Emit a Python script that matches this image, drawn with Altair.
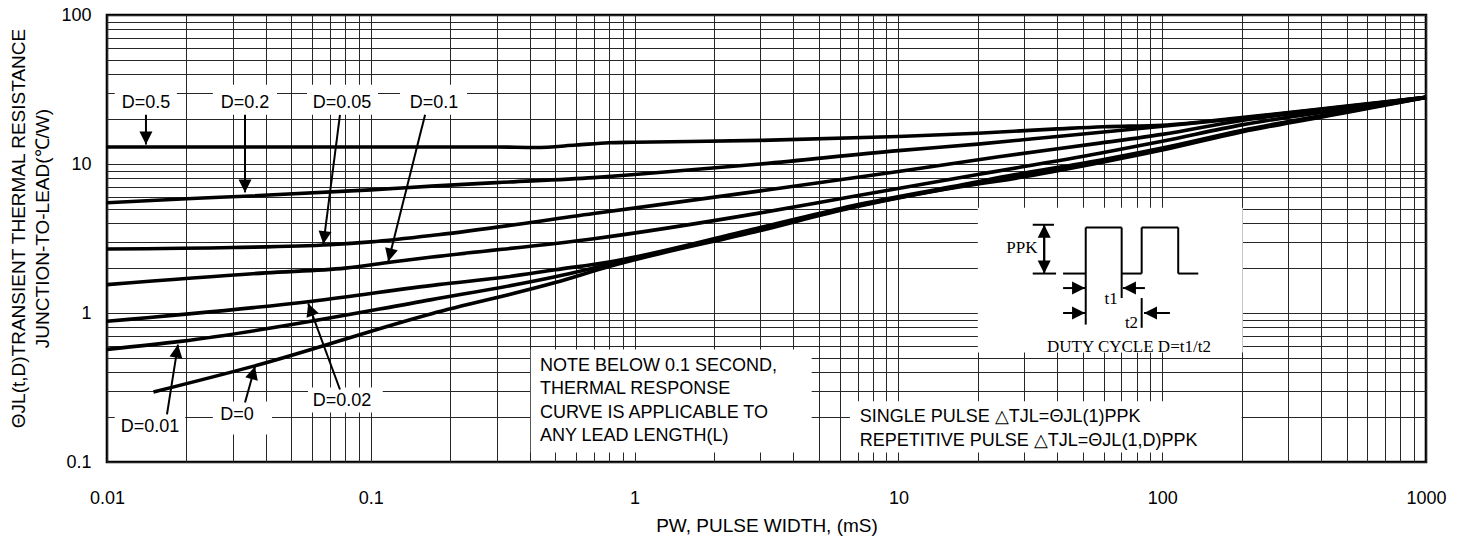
import math
import altair as alt
import pandas as pd

# ---------------- curve data (x: pulse width [ms], y: thermal resistance [°C/W]) ----------------
D05_X = [0.01, 0.1, 0.3, 0.42, 0.6, 0.8, 1, 3, 10, 20, 40, 60, 100, 200, 500, 1000]
D05_Y = [13.0, 13.0, 13.0, 12.9, 13.4, 13.9, 14.0, 14.4, 15.3, 16.1, 17.2, 17.8, 18.2, 20.5, 24.5, 28.0]

D02_X = [0.01, 0.02, 0.035, 0.1, 0.17, 0.3, 0.7, 1, 3, 10, 20, 40, 90, 200, 500, 1000]
D02_Y = [5.5, 5.85, 6.1, 6.7, 7.1, 7.5, 8.1, 8.5, 10.0, 12.3, 13.6, 15.3, 17.6, 20.3, 24.3, 28.0]

D005_X = [0.01, 0.03, 0.07, 0.1, 0.18, 0.7, 3, 10, 24, 58, 100, 200, 500, 1000]
D005_Y = [2.69, 2.75, 2.87, 3.0, 3.35, 4.65, 6.6, 8.9, 11.2, 13.8, 15.8, 19.6, 24.0, 28.0]

D01_X = [0.01, 0.04, 0.08, 0.12, 0.18, 0.7, 3, 6.7, 20, 58, 100, 200, 500, 1000]
D01_Y = [1.55, 1.86, 2.0, 2.2, 2.4, 3.15, 4.7, 6.05, 8.5, 11.8, 14.2, 18.3, 23.5, 28.0]

D002_X = [0.01, 0.06, 0.18, 0.33, 0.5, 0.8, 3, 6.7, 20, 24, 58, 100, 200, 500, 1000]
D002_Y = [0.88, 1.2, 1.55, 1.75, 1.95, 2.2, 3.75, 5.25, 7.6, 8.1, 10.6, 12.8, 16.8, 22.6, 28.0]

D001_X = [0.01, 0.019, 0.17, 0.5, 0.8, 3, 6.7, 20, 24, 58, 100, 200, 500, 1000]
D001_Y = [0.57, 0.645, 1.23, 1.75, 2.12, 3.65, 5.15, 7.45, 7.9, 10.4, 12.6, 16.6, 22.4, 28.0]

D0_X = [0.015, 0.036, 0.17, 0.5, 0.8, 3, 6.7, 20, 24, 58, 100, 200, 500, 1000]
D0_Y = [0.295, 0.44, 0.99, 1.6, 2.05, 3.58, 5.1, 7.35, 7.7, 10.2, 12.4, 16.4, 22.2, 28.0]

SERIES = [
    ("D=0.5", D05_X, D05_Y),
    ("D=0.2", D02_X, D02_Y),
    ("D=0.05", D005_X, D005_Y),
    ("D=0.1", D01_X, D01_Y),
    ("D=0.02", D002_X, D002_Y),
    ("D=0.01", D001_X, D001_Y),
    ("D=0", D0_X, D0_Y),
]

# ---------------- axis ticks ----------------
X_DOMAIN = [0.01, 1000]
Y_DOMAIN = [0.1, 100]
X_TICKS = [round(m * 10 ** e, 6) for e in range(-2, 3) for m in range(1, 10)] + [1000]
Y_TICKS = [round(m * 10 ** e, 6) for e in range(-1, 2) for m in range(1, 10)] + [100]

# ---------------- annotations (data units) ----------------
# curve labels: text, x, y
LABELS = [
    ("D=0.5", 0.01405, 25.7), ("D=0.2", 0.03336, 25.7), ("D=0.05", 0.0778, 25.7),
    ("D=0.1", 0.1736, 25.7), ("D=0.01", 0.01456, 0.1706), ("D=0", 0.0311, 0.2052),
    ("D=0.02", 0.0778, 0.2548),
]
# arrows: start x, start y, tip x, tip y
ARROWS = [
    (0.01405, 21.4, 0.01405, 13.5),
    (0.03336, 21.4, 0.03336, 6.45),
    (0.0764, 21.4, 0.0661, 2.9),
    (0.1606, 21.4, 0.1165, 2.22),
    (0.01688, 0.2085, 0.01858, 0.614),
    (0.03336, 0.2508, 0.0364, 0.437),
    (0.0764, 0.3066, 0.0579, 1.16),
    # inset
    (35.7, 1.9, 35.7, 3.91),
    (35.7, 3.8, 35.7, 1.84),
    (42.1, 1.47, 51.0, 1.47),
    (86.0, 1.47, 71.0, 1.47),
    (42.1, 1.0, 51.0, 1.0),
    (107.0, 1.0, 85.3, 1.0),
]
# white boxes: x0, x1, y0, y1
BOXES = [
    (0.0107, 0.0184, 21.4, 34.0),
    (0.0252, 0.0441, 21.4, 34.0),
    (0.0573, 0.1065, 21.4, 34.0),
    (0.129, 0.2316, 21.4, 34.0),
    (0.0107, 0.0198, 0.118, 0.232),
    (0.0252, 0.0422, 0.153, 0.255),
    (0.0578, 0.111, 0.215, 0.316),
    (0.404, 4.69, 0.116, 0.569),
    (6.55, 200.0, 0.116, 0.256),
    (20.0, 202.0, 0.543, 5.08),
]
NOTE_LINES = ["NOTE BELOW 0.1 SECOND,", "THERMAL RESPONSE", "CURVE IS APPLICABLE TO", "ANY LEAD LENGTH(L)"]
NOTE_X = 0.4375
NOTE_Y = [0.444, 0.310, 0.214, 0.149]
FORMULA_LINES = ["SINGLE PULSE \u25b3TJL=\u0398JL(1)PPK", "REPETITIVE PULSE \u25b3TJL=\u0398JL(1,D)PPK"]
FORMULA_X = 7.14
FORMULA_Y = [0.201, 0.138]
# inset pulse-train segments: x0, y0, x1, y1
WAVE = [
    (42.1, 1.84, 51.3, 1.84), (51.3, 0.836, 51.3, 3.75), (51.3, 3.75, 70.2, 3.75),
    (70.2, 1.26, 70.2, 3.75), (70.2, 1.84, 83.6, 1.84), (83.6, 1.84, 83.6, 3.75),
    (83.6, 3.75, 115.0, 3.75), (115.0, 1.84, 115.0, 3.75), (115.0, 1.84, 137.0, 1.84),
    (83.6, 0.795, 83.6, 1.26), (32.3, 3.91, 38.9, 3.91), (32.3, 1.84, 39.6, 1.84),
]
INSET_TEXT = [("PPK", 29.4, 2.74), ("t1", 64.0, 1.25), ("t2", 76.5, 0.863)]
DUTY_TEXT = ("DUTY CYCLE D=t1/t2", 36.6, 0.55)

# ---------------- layout ----------------
W, H = 1319, 447
FONT = "Liberation Sans"
SERIF = "Liberation Serif"
GRID = "#262626"


def to_px(x, y):
    lx = (math.log10(x) - math.log10(X_DOMAIN[0])) / (math.log10(X_DOMAIN[1]) - math.log10(X_DOMAIN[0]))
    ly = (math.log10(Y_DOMAIN[1]) - math.log10(y)) / (math.log10(Y_DOMAIN[1]) - math.log10(Y_DOMAIN[0]))
    return lx * W, ly * H


label_expr = ("abs(log(datum.value)/LN10 - round(log(datum.value)/LN10)) < 0.001 "
              "? format(datum.value, '~g') : ''")

x_scale = alt.Scale(type="log", domain=X_DOMAIN, nice=False)
y_scale = alt.Scale(type="log", domain=Y_DOMAIN, nice=False)

x_axis = alt.Axis(
    values=X_TICKS, labelExpr=label_expr, grid=True, gridColor=GRID, gridWidth=1,
    ticks=False, domain=False, labelFont=FONT, labelFontSize=18, labelColor="black",
    labelPadding=27, labelOverlap=False, labelFlush=False,
    title="PW, PULSE WIDTH, (mS)", titleFont=FONT, titleFontSize=19, titleFontWeight="normal",
    titleColor="black", titleY=63, titleBaseline="middle",
)
y_axis = alt.Axis(
    values=Y_TICKS, labelExpr=label_expr, grid=True, gridColor=GRID, gridWidth=1,
    ticks=False, domain=False, labelFont=FONT, labelFontSize=18, labelColor="black",
    labelPadding=16, labelOverlap=False, labelFlush=False, labelBaseline="middle",
    title=["\u0398JL(t,D)TRANSIENT THERMAL RESISTANCE", "JUNCTION-TO-LEAD(\u2103/W)"],
    titleFont=FONT, titleFontSize=19, titleFontWeight="normal", titleColor="black",
    titleAngle=270, titleX=-89, titleY=213, titleAlign="center", titleBaseline="middle",
    titleLineHeight=24,
)


def X(f):
    return alt.X(f, type="quantitative", scale=x_scale, axis=x_axis)


def Y(f):
    return alt.Y(f, type="quantitative", scale=y_scale, axis=y_axis)


# ---------------- data frames ----------------
curve_rows = []
for name, xs, ys in SERIES:
    for i, (xv, yv) in enumerate(zip(xs, ys)):
        curve_rows.append({"series": name, "i": i, "x": xv, "y": yv})
curves_df = pd.DataFrame(curve_rows)

boxes_df = pd.DataFrame([{"x": a, "x2": b, "y": c, "y2": d} for a, b, c, d in BOXES])

seg_rows = []
head_rows = []
for sx, sy, tx, ty in ARROWS:
    seg_rows.append({"x": sx, "y": sy, "x2": tx, "y2": ty})
    p0 = to_px(sx, sy)
    p1 = to_px(tx, ty)
    ang = math.degrees(math.atan2(p1[0] - p0[0], -(p1[1] - p0[1]))) % 360
    head_rows.append({"x": tx, "y": ty, "angle": ang})
for a, b, c, d in WAVE:
    seg_rows.append({"x": a, "y": b, "x2": c, "y2": d})
segs_df = pd.DataFrame(seg_rows)
heads_df = pd.DataFrame(head_rows)

labels_df = pd.DataFrame([{"t": t, "x": xv, "y": yv} for t, xv, yv in LABELS])
left_rows = [{"t": t, "x": NOTE_X, "y": yv} for t, yv in zip(NOTE_LINES, NOTE_Y)]
left_rows += [{"t": t, "x": FORMULA_X, "y": yv} for t, yv in zip(FORMULA_LINES, FORMULA_Y)]
left_df = pd.DataFrame(left_rows)
inset_df = pd.DataFrame([{"t": t, "x": xv, "y": yv} for t, xv, yv in INSET_TEXT])
duty_df = pd.DataFrame([{"t": DUTY_TEXT[0], "x": DUTY_TEXT[1], "y": DUTY_TEXT[2]}])

# ---------------- layers ----------------
boxes = alt.Chart(boxes_df).mark_rect(color="white", opacity=1).encode(
    x=X("x"), x2="x2", y=Y("y"), y2="y2"
)
lines = alt.Chart(curves_df).mark_line(color="black", strokeWidth=3.6, interpolate="monotone").encode(
    x=X("x"), y=Y("y"), detail="series:N", order="i:Q"
)
segs = alt.Chart(segs_df).mark_rule(color="black", strokeWidth=2).encode(
    x=X("x"), x2="x2", y=Y("y"), y2="y2"
)
heads = alt.Chart(heads_df).mark_point(
    shape="M0,0L-0.5,1L0.5,1Z", filled=True, fill="black", strokeWidth=0, opacity=1, size=676
).encode(x=X("x"), y=Y("y"), angle=alt.Angle("angle", type="quantitative", scale=None))
labels = alt.Chart(labels_df).mark_text(font=FONT, fontSize=18, color="black", align="center", baseline="middle").encode(
    x=X("x"), y=Y("y"), text="t:N"
)
left_text = alt.Chart(left_df).mark_text(font=FONT, fontSize=18, color="black", align="left", baseline="middle").encode(
    x=X("x"), y=Y("y"), text="t:N"
)
inset_text = alt.Chart(inset_df).mark_text(font=SERIF, fontSize=17, color="black", align="center", baseline="middle").encode(
    x=X("x"), y=Y("y"), text="t:N"
)
duty_text = alt.Chart(duty_df).mark_text(font=SERIF, fontSize=17, color="black", align="left", baseline="alphabetic").encode(
    x=X("x"), y=Y("y"), text="t:N"
)

chart = alt.layer(boxes, lines, segs, heads, labels, left_text, inset_text, duty_text).properties(
    width=W, height=H,
    padding={"left": 107, "top": 15, "right": 41, "bottom": 79},
    autosize=alt.AutoSizeParams(type="none"),
    background="white",
).configure_view(stroke="black", strokeWidth=2.6)

chart.save("out.html", embed_options={"renderer": "svg", "actions": False})
